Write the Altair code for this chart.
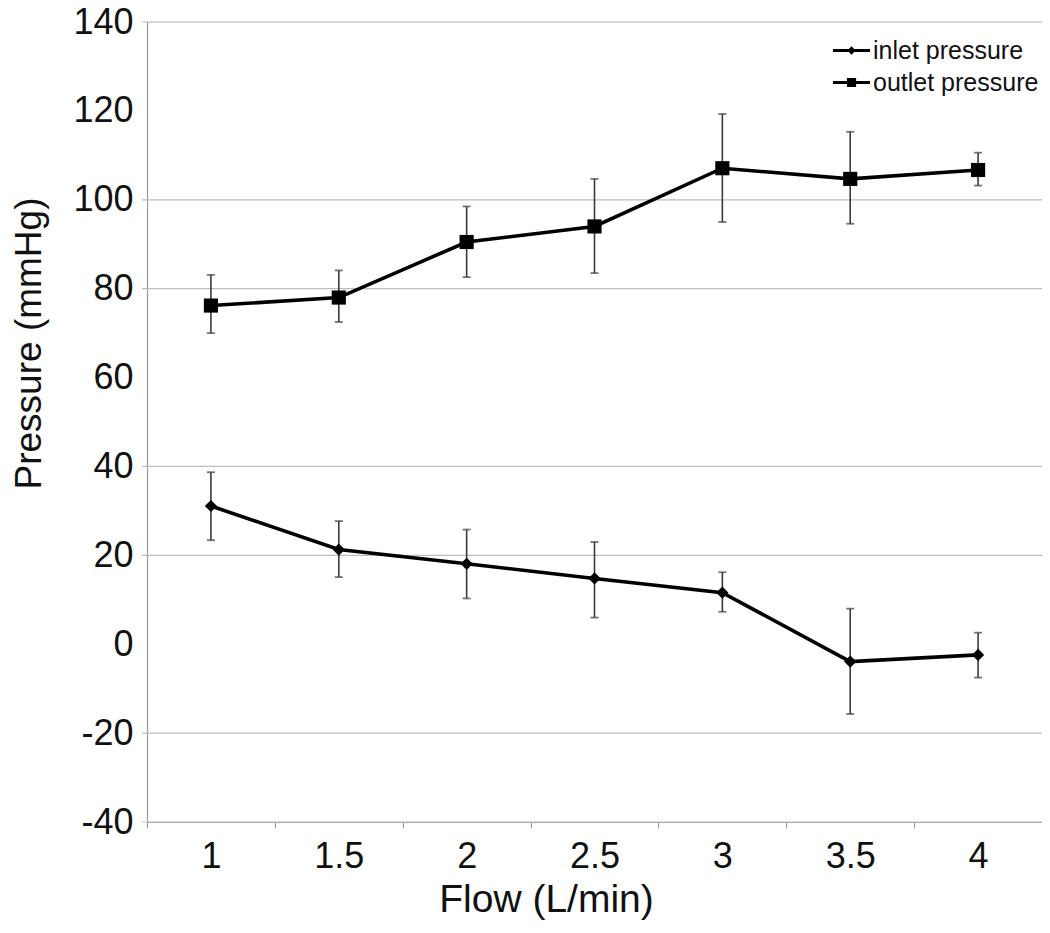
import altair as alt
import pandas as pd

flow = ["1", "1.5", "2", "2.5", "3", "3.5", "4"]
inlet = [31.1, 21.3, 18.1, 14.8, 11.6, -3.9, -2.4]
inlet_hi = [38.7, 27.7, 25.8, 23.0, 16.2, 8.0, 2.6]
inlet_lo = [23.4, 15.1, 10.3, 6.0, 7.3, -15.7, -7.5]
outlet = [76.2, 78.0, 90.5, 94.0, 107.1, 104.7, 106.7]
outlet_hi = [83.1, 84.1, 98.5, 104.7, 119.3, 115.3, 110.6]
outlet_lo = [70.0, 72.5, 82.6, 83.5, 95.0, 94.6, 103.2]
series_names = ["inlet pressure", "outlet pressure"]
y_ticks = [-40, -20, 0, 20, 40, 60, 80, 100, 120, 140]
grid_values = [140, 100, 80, 40, 20, -20, -40]

rows = []
for f, v, lo, hi in zip(flow, inlet, inlet_lo, inlet_hi):
    rows.append({"flow": f, "value": v, "lo": lo, "hi": hi, "series": series_names[0],
                 "shape": "diamond", "size": 150})
for f, v, lo, hi in zip(flow, outlet, outlet_lo, outlet_hi):
    rows.append({"flow": f, "value": v, "lo": lo, "hi": hi, "series": series_names[1],
                 "shape": "square", "size": 200})
df = pd.DataFrame(rows)
grid_df = pd.DataFrame({"value": grid_values})

FONT = "Liberation Sans"
W, H = 895, 800

y_axis = alt.Axis(
    values=y_ticks, grid=False, ticks=False, labelPadding=14, labelFontSize=36,
    labelFont=FONT, labelColor="#111", domainColor="#999", domainWidth=1.2,
    labelExpr="toString(datum.value)",
    title="Pressure (mmHg)", titleFont=FONT, titleFontSize=37, titleFontWeight="normal",
    titleColor="#111", titleAngle=270, titleX=-118, titleY=321, titleAlign="center",
    titleBaseline="middle",
)
y_scale = alt.Scale(domain=[-40, 140], nice=False, zero=False)

x_enc = alt.X(
    "flow:N", sort=flow,
    scale=alt.Scale(type="band", paddingInner=0, paddingOuter=0, domain=flow),
    axis=alt.Axis(
        labelAngle=0, labelFontSize=36, labelFont=FONT, labelColor="#111", labelPadding=11,
        tickBand="extent", tickSize=6, tickColor="#999", domainColor="#999", domainWidth=1.2,
        grid=False, title="Flow (L/min)", titleFont=FONT, titleFontSize=39,
        titleFontWeight="normal", titleColor="#111", titleX=399, titleY=89,
        titleAlign="center", titleBaseline="alphabetic",
    ),
)


def yenc(field):
    return alt.Y(field, scale=y_scale, axis=y_axis)


grid = alt.Chart(grid_df).mark_rule(color="#bdbdbd", strokeWidth=1.2).encode(
    y=yenc("value:Q"), x=alt.value(-5), x2=alt.value(W)
)

base = alt.Chart(df)

err = base.mark_rule(color="#3a3a3a", strokeWidth=1.6).encode(
    x=x_enc, y=yenc("lo:Q"), y2="hi:Q"
)
cap_lo = base.mark_tick(color="#3a3a3a", size=8, thickness=1.8).encode(x=x_enc, y=yenc("lo:Q"))
cap_hi = base.mark_tick(color="#3a3a3a", size=8, thickness=1.8).encode(x=x_enc, y=yenc("hi:Q"))

line = base.mark_line(color="black", strokeWidth=3.6).encode(
    x=x_enc, y=yenc("value:Q"), detail="series:N"
)
pts = base.mark_point(filled=True, color="black", opacity=1).encode(
    x=x_enc, y=yenc("value:Q"),
    shape=alt.Shape("shape:N", scale=None),
    size=alt.Size("size:Q", scale=None),
)

path_inlet = "M-2,-0.17L2,-0.17L2,0.17L-2,0.17Z M0,-0.45L0.45,0L0,0.45L-0.45,0Z"
path_outlet = "M-2,-0.17L2,-0.17L2,0.17L-2,0.17Z M-0.5,-0.5L0.5,-0.5L0.5,0.5L-0.5,0.5Z"

legend_layer = base.mark_point(filled=True, opacity=0).encode(
    x=x_enc, y=yenc("value:Q"),
    shape=alt.Shape(
        "series:N",
        scale=alt.Scale(domain=series_names, range=[path_inlet, path_outlet]),
        legend=alt.Legend(
            title=None, orient="none", legendX=692, legendY=16, padding=0,
            labelFont=FONT, labelFontSize=25, labelColor="#111", labelOffset=9,
            labelLimit=400,
            symbolSize=342, symbolStrokeWidth=0, symbolFillColor="black",
            symbolStrokeColor="black", symbolOpacity=1, rowPadding=6,
        ),
    ),
)

chart = alt.layer(grid, err, cap_lo, cap_hi, line, pts, legend_layer).properties(
    width=W, height=H,
    autosize=alt.AutoSizeParams(type="none"),
    padding={"left": 139, "top": 14, "right": 0, "bottom": 98},
).configure_view(stroke=None).configure(background="white")

chart.save("out.html", embed_options={"renderer": "svg", "actions": False})
